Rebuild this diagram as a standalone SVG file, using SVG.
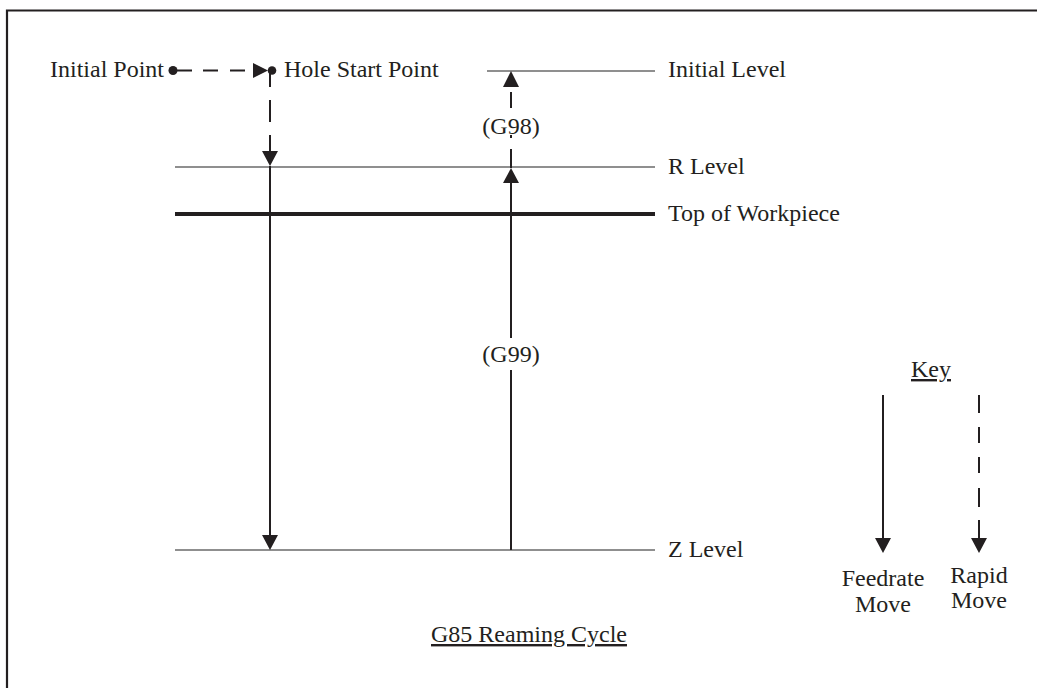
<svg xmlns="http://www.w3.org/2000/svg" width="1037" height="688" viewBox="0 0 1037 688">
<style>
text{font-family:"Liberation Serif","Times New Roman",serif;font-size:24px;fill:#231f20}
.lvl{stroke:#6a6a6a;stroke-width:1.4;fill:none}
.thick{stroke:#231f20;stroke-width:4;fill:none}
.mv{stroke:#231f20;stroke-width:2;fill:none}
.dash{stroke:#231f20;stroke-width:2;fill:none}
.head{fill:#231f20}
</style>
<rect x="0" y="0" width="1037" height="688" fill="#fff"/>
<path d="M7,688 V10.5 H1037" stroke="#231f20" stroke-width="2.2" fill="none"/>
<g id="levels">
<line class="lvl" x1="487" y1="71" x2="655" y2="71"/>
<line class="lvl" x1="175" y1="167" x2="655" y2="167"/>
<line class="thick" x1="175" y1="214" x2="655" y2="214"/>
<line class="lvl" x1="175" y1="550" x2="655" y2="550"/>
</g>
<g id="labels">
<text x="50" y="77">Initial Point</text>
<text x="284" y="77">Hole Start Point</text>
<text x="668" y="77">Initial Level</text>
<text x="668" y="174">R Level</text>
<text x="668" y="221">Top of Workpiece</text>
<text x="668" y="557">Z Level</text>
</g>
<g id="connectors">
<circle class="head" cx="173" cy="70.5" r="4.5"/>
<line class="dash" x1="173" y1="70.5" x2="254" y2="70.5" stroke-dasharray="19 11 15 12 15 8"/>
<polygon class="head" points="253,63 268,70.5 253,78"/>
<circle class="head" cx="272" cy="70.5" r="4.3"/>
<path class="dash" d="M270,70 V87 M270,100 V122 M270,135 V151"/>
<polygon class="head" points="262,151 278,151 270,166"/>
<line class="mv" x1="270" y1="166" x2="270" y2="535"/>
<polygon class="head" points="262,535 278,535 270,550"/>
<line class="mv" x1="511" y1="550" x2="511" y2="183"/>
<polygon class="head" points="503,183 519,183 511,168"/>
<line class="mv" x1="511" y1="168" x2="511" y2="149"/>
<line class="dash" x1="511" y1="92" x2="511" y2="108"/>
<line class="dash" x1="511" y1="135" x2="511" y2="138"/>
<polygon class="head" points="503,87 519,87 511,71"/>
</g>
<g id="g98"><text x="511" y="134" text-anchor="middle">(G98)</text></g>
<g id="g99"><rect x="477" y="338" width="68" height="32" fill="#fff"/><text x="511" y="362" text-anchor="middle">(G99)</text></g>
<g id="key">
<text x="931" y="377" text-anchor="middle" text-decoration="underline">Key</text>
<line class="mv" x1="883" y1="395" x2="883" y2="539"/>
<polygon class="head" points="875,538 891,538 883,553"/>
<path class="dash" d="M979,395 V413 M979,427 V443 M979,457 V473 M979,488 V507 M979,520 V539"/>
<polygon class="head" points="971,538 987,538 979,553"/>
<text x="883" y="586" text-anchor="middle">Feedrate</text>
<text x="883" y="612" text-anchor="middle">Move</text>
<text x="979" y="583" text-anchor="middle">Rapid</text>
<text x="979" y="608" text-anchor="middle">Move</text>
</g>
<g id="title"><text x="529" y="642" text-anchor="middle" text-decoration="underline">G85 Reaming Cycle</text></g>
</svg>
